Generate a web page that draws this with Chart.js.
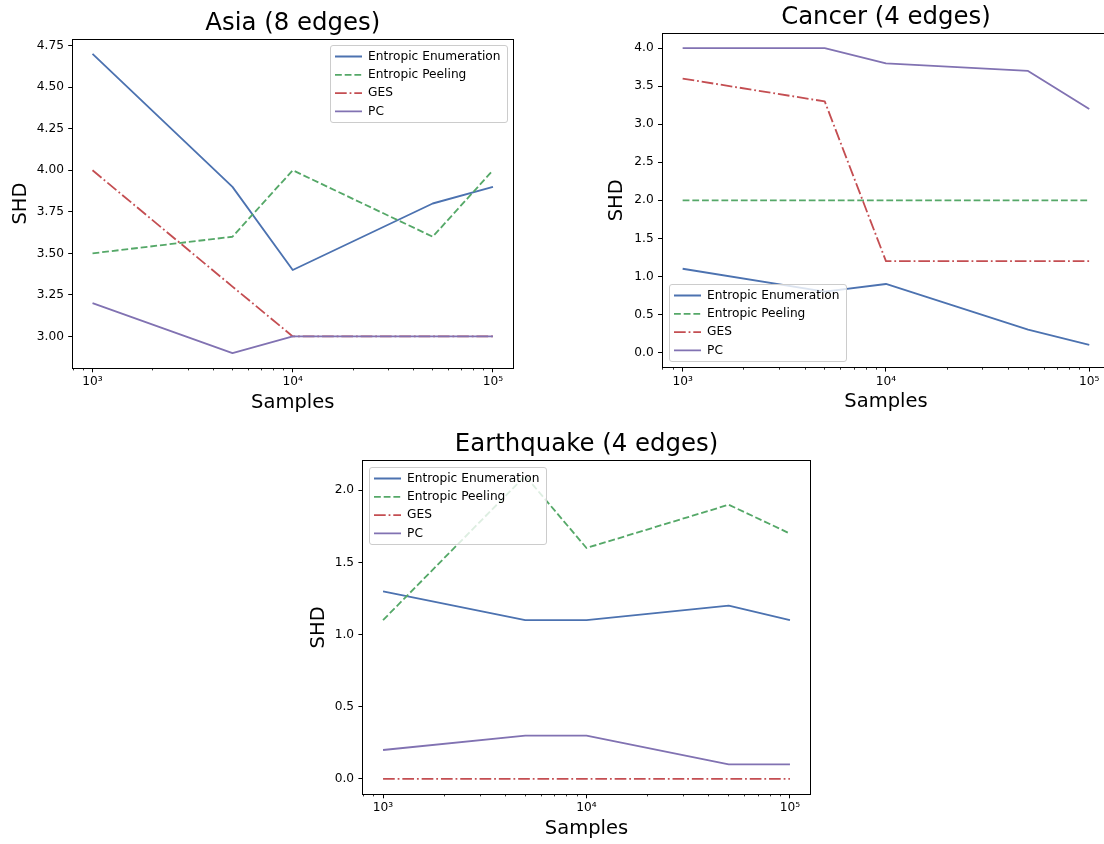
<!DOCTYPE html>
<html>
<head>
<meta charset="utf-8">
<script src="https://cdn.jsdelivr.net/npm/chart.js@4.4.1/dist/chart.umd.min.js"></script>
<style>
html, body { margin: 0; padding: 0; background: #ffffff; width: 1104px; height: 844px; overflow: hidden; }
body { position: relative; }
canvas { position: absolute; }
</style>
</head>
<body>
<canvas id="asia"></canvas>
<canvas id="cancer"></canvas>
<canvas id="quake"></canvas>
<script>
// ---------------- DATA ----------------
const samples = [1000, 5000, 10000, 50000, 100000];
const seriesNames = ['Entropic Enumeration', 'Entropic Peeling', 'GES', 'PC'];

const asiaEnumeration = [4.7, 3.9, 3.4, 3.8, 3.9];
const asiaPeeling     = [3.5, 3.6, 4.0, 3.6, 4.0];
const asiaGES         = [4.0, 3.3, 3.0, 3.0, 3.0];
const asiaPC          = [3.2, 2.9, 3.0, 3.0, 3.0];

const cancerEnumeration = [1.1, 0.8, 0.9, 0.3, 0.1];
const cancerPeeling     = [2.0, 2.0, 2.0, 2.0, 2.0];
const cancerGES         = [3.6, 3.3, 1.2, 1.2, 1.2];
const cancerPC          = [4.0, 4.0, 3.8, 3.7, 3.2];

const quakeEnumeration = [1.3, 1.1, 1.1, 1.2, 1.1];
const quakePeeling     = [1.1, 2.1, 1.6, 1.9, 1.7];
const quakeGES         = [0.0, 0.0, 0.0, 0.0, 0.0];
const quakePC          = [0.2, 0.3, 0.3, 0.1, 0.1];

const xTickValues = [1000, 10000, 100000];
const xTickLabels = ['10³', '10⁴', '10⁵'];
const xMinorTickValues = [800, 900, 2000, 3000, 4000, 5000, 6000, 7000, 8000, 9000,
                          20000, 30000, 40000, 50000, 60000, 70000, 80000, 90000];

const asiaYTicks = [3.00, 3.25, 3.50, 3.75, 4.00, 4.25, 4.50, 4.75];
const asiaYLabels = ['3.00', '3.25', '3.50', '3.75', '4.00', '4.25', '4.50', '4.75'];
const cancerYTicks = [0.0, 0.5, 1.0, 1.5, 2.0, 2.5, 3.0, 3.5, 4.0];
const cancerYLabels = ['0.0', '0.5', '1.0', '1.5', '2.0', '2.5', '3.0', '3.5', '4.0'];
const quakeYTicks = [0.0, 0.5, 1.0, 1.5, 2.0];
const quakeYLabels = ['0.0', '0.5', '1.0', '1.5', '2.0'];

// ---------------- STYLE ----------------
const FONT = "'DejaVu Sans', sans-serif";
const TITLE_SIZE = 24.4, LABEL_SIZE = 19.5, TICK_SIZE = 12.2, LEG_FS = 12.2, LEG_PAD = 6.1;
const LW = 1.83;
const colors = ['#4C72B0', '#55A868', '#C44E52', '#8172B2'];
const dashes = [[], [6.8, 2.9], [11.7, 2.9, 1.8, 2.9], []];
const X_MIN = Math.pow(10, 2.9), X_MAX = Math.pow(10, 5.1);

Chart.defaults.font.family = FONT;
Chart.defaults.color = '#000';

// matplotlib-like legend frame, drawn over the lines
const FRAME_PAD_L = 4.5, FRAME_PAD_R = 7, FRAME_ROW_OFF = 11, INSET = 6.3;
const mplLegend = {
  id: 'mplLegend',
  beforeLayout(chart) {
    if (chart.legend) chart.legend._layers = () => [];
  },
  afterLayout(chart, args, opts) {
    const lg = chart.legend;
    if (!lg || !lg.legendHitBoxes) return;
    const ca = chart.chartArea;
    const maxW = Math.max(...lg.legendHitBoxes.map(h => h.width));
    const n = lg.legendHitBoxes.length;
    const FW = FRAME_PAD_L + maxW + FRAME_PAD_R;
    const FH = 2 * FRAME_ROW_OFF + (n - 1) * (LEG_FS + LEG_PAD);
    let FL, FT;
    if (opts.anchor === 'upper right') { FL = ca.right - INSET - FW; FT = ca.top + INSET; }
    else if (opts.anchor === 'lower left') { FL = ca.left + INSET; FT = ca.bottom - INSET - FH; }
    else { FL = ca.left + INSET; FT = ca.top + INSET; }
    FL = Math.round(FL) + 0.5; FT = Math.round(FT) + 0.5;
    const FWr = Math.round(FW), FHr = Math.round(FH);
    lg.left = FL + FRAME_PAD_L - LEG_PAD;
    lg.top = FT + FRAME_ROW_OFF - LEG_FS / 2 - LEG_PAD;
    lg.right = lg.left + lg.width;
    lg.bottom = lg.top + lg.height;
    chart.$mplFrame = { FL, FT, FW: FWr, FH: FHr };
  },
  afterDatasetsDraw(chart) {
    const f = chart.$mplFrame;
    if (!f) return;
    const ctx = chart.ctx;
    ctx.save();
    ctx.beginPath();
    const r = 2.5, x = f.FL, y = f.FT, w = f.FW, h = f.FH;
    ctx.moveTo(x + r, y);
    ctx.lineTo(x + w - r, y); ctx.arcTo(x + w, y, x + w, y + r, r);
    ctx.lineTo(x + w, y + h - r); ctx.arcTo(x + w, y + h, x + w - r, y + h, r);
    ctx.lineTo(x + r, y + h); ctx.arcTo(x, y + h, x, y + h - r, r);
    ctx.lineTo(x, y + r); ctx.arcTo(x, y, x + r, y, r);
    ctx.closePath();
    ctx.fillStyle = 'rgba(255,255,255,0.8)';
    ctx.fill();
    ctx.strokeStyle = '#cccccc';
    ctx.lineWidth = 1;
    ctx.stroke();
    ctx.restore();
    chart.legend.draw();
  }
};

function legendLabels(chart) {
  const items = Chart.defaults.plugins.legend.labels.generateLabels(chart);
  items.forEach(it => {
    const ds = chart.data.datasets[it.datasetIndex];
    it.lineDash = ds.borderDash;
    it.lineWidth = ds.borderWidth;
    it.strokeStyle = ds.borderColor;
    it.fillStyle = ds.borderColor;
    it.pointStyle = 'line';
    it.lineCap = 'butt';
  });
  return items;
}

function makeChart(id, spec) {
  const { L, T, R, B } = spec.area;
  const cx = Math.floor(L) - 80, cy = Math.floor(T) - 50;
  const cw = Math.ceil(R) + 20 - cx, ch = Math.ceil(B) + 56 - cy;
  const canvas = document.getElementById(id);
  canvas.width = cw; canvas.height = ch;
  canvas.style.left = cx + 'px'; canvas.style.top = cy + 'px';
  canvas.style.width = cw + 'px'; canvas.style.height = ch + 'px';

  const lx = L - cx, ty = T - cy, rp = cw - (R - cx), bs = ch - (B - cy);
  const padLeft = (L - spec.yTitleOffset - cx) - LABEL_SIZE / 2;
  const wy = lx - padLeft;
  const hx = 35 + LABEL_SIZE / 2;
  const padBottom = bs - hx;
  const titlePadBottom = 3.5;
  const titlePadTop = ty - TITLE_SIZE - titlePadBottom;

  const datasets = spec.series.map((vals, i) => ({
    label: seriesNames[i],
    data: samples.map((s, j) => ({ x: s, y: vals[j] })),
    borderColor: colors[i],
    backgroundColor: colors[i],
    borderWidth: LW,
    borderDash: dashes[i],
    borderJoinStyle: 'round',
    pointRadius: 0,
    pointHoverRadius: 0,
    pointStyle: 'line',
    fill: false,
    tension: 0,
    order: 3 - i
  }));

  const tickFont = { size: TICK_SIZE, family: FONT };
  const axisTitleFont = { size: LABEL_SIZE, family: FONT, lineHeight: 1 };

  return new Chart(canvas, {
    type: 'line',
    data: { datasets },
    options: {
      responsive: false,
      animation: false,
      events: [],
      devicePixelRatio: 1,
      layout: { autoPadding: false, padding: { left: padLeft, top: 0, right: rp, bottom: padBottom } },
      scales: {
        x: {
          type: 'logarithmic', position: 'bottom', min: X_MIN, max: X_MAX, bounds: 'data', weight: 0,
          afterBuildTicks: s => { s.ticks = xTickValues.map(v => ({ value: v })); },
          afterFit: s => { s.height = hx; },
          ticks: { autoSkip: false, maxRotation: 0, minRotation: 0, padding: 2.5, font: tickFont, color: '#000',
                   callback: (v, i) => xTickLabels[i] },
          grid: { drawOnChartArea: false, drawTicks: true, tickLength: 4.3, tickColor: '#000', tickWidth: 1 },
          border: { display: true, color: '#000', width: 1 },
          title: { display: true, text: 'Samples', font: axisTitleFont, color: '#000', padding: 0 }
        },
        xMinor: {
          type: 'logarithmic', position: 'bottom', min: X_MIN, max: X_MAX, bounds: 'data', weight: -1,
          afterBuildTicks: s => { s.ticks = xMinorTickValues.map(v => ({ value: v })); },
          afterFit: s => { s.height = 0; },
          ticks: { display: false, autoSkip: false },
          grid: { drawOnChartArea: false, drawTicks: true, tickLength: 2.4, tickColor: '#000', tickWidth: 0.8 },
          border: { display: false }
        },
        xTop: {
          type: 'logarithmic', position: 'top', min: X_MIN, max: X_MAX, bounds: 'data',
          afterFit: s => { s.height = 0; },
          ticks: { display: false },
          grid: { drawOnChartArea: false, drawTicks: false },
          border: { display: true, color: '#000', width: 1 }
        },
        y: {
          type: 'linear', position: 'left', min: spec.yMin, max: spec.yMax, bounds: 'data',
          afterBuildTicks: s => { s.ticks = spec.yTicks.map(v => ({ value: v })); },
          afterFit: s => { s.width = wy; },
          ticks: { autoSkip: false, padding: 4.3, font: tickFont, color: '#000',
                   callback: (v, i) => spec.yLabels[i] },
          grid: { drawOnChartArea: false, drawTicks: true, tickLength: 4.3, tickColor: '#000', tickWidth: 1 },
          border: { display: true, color: '#000', width: 1 },
          title: { display: true, text: 'SHD', font: axisTitleFont, color: '#000', padding: 0 }
        },
        yRight: {
          type: 'linear', position: 'right', min: spec.yMin, max: spec.yMax, bounds: 'data',
          afterFit: s => { s.width = 0; },
          ticks: { display: false },
          grid: { drawOnChartArea: false, drawTicks: false },
          border: { display: true, color: '#000', width: 1 }
        }
      },
      plugins: {
        title: {
          display: true, text: spec.title, fullSize: false, color: '#000',
          font: { size: TITLE_SIZE, family: FONT, weight: 'normal', lineHeight: 1 },
          padding: { top: titlePadTop, bottom: titlePadBottom }
        },
        legend: {
          display: true, position: 'chartArea', align: 'start',
          labels: {
            usePointStyle: true, pointStyle: 'line', pointStyleWidth: 27,
            padding: LEG_PAD, color: '#000', font: { size: LEG_FS, family: FONT },
            generateLabels: legendLabels,
            sort: (a, b) => a.datasetIndex - b.datasetIndex
          }
        },
        tooltip: { enabled: false },
        mplLegend: { anchor: spec.legendAnchor }
      }
    },
    plugins: [mplLegend]
  });
}

makeChart('asia', {
  title: 'Asia (8 edges)',
  area: { L: 72.5, T: 39, R: 513, B: 368 },
  yTitleOffset: 51.5,
  yMin: 2.81, yMax: 4.79,
  yTicks: asiaYTicks, yLabels: asiaYLabels,
  series: [asiaEnumeration, asiaPeeling, asiaGES, asiaPC],
  legendAnchor: 'upper right'
});

makeChart('cancer', {
  title: 'Cancer (4 edges)',
  area: { L: 662.3, T: 33.3, R: 1109.6, B: 367.3 },
  yTitleOffset: 45,
  yMin: -0.195, yMax: 4.195,
  yTicks: cancerYTicks, yLabels: cancerYLabels,
  series: [cancerEnumeration, cancerPeeling, cancerGES, cancerPC],
  legendAnchor: 'lower left'
});

makeChart('quake', {
  title: 'Earthquake (4 edges)',
  area: { L: 362.7, T: 460.7, R: 810.3, B: 794 },
  yTitleOffset: 44,
  yMin: -0.105, yMax: 2.205,
  yTicks: quakeYTicks, yLabels: quakeYLabels,
  series: [quakeEnumeration, quakePeeling, quakeGES, quakePC],
  legendAnchor: 'upper left'
});
</script>
</body>
</html>
